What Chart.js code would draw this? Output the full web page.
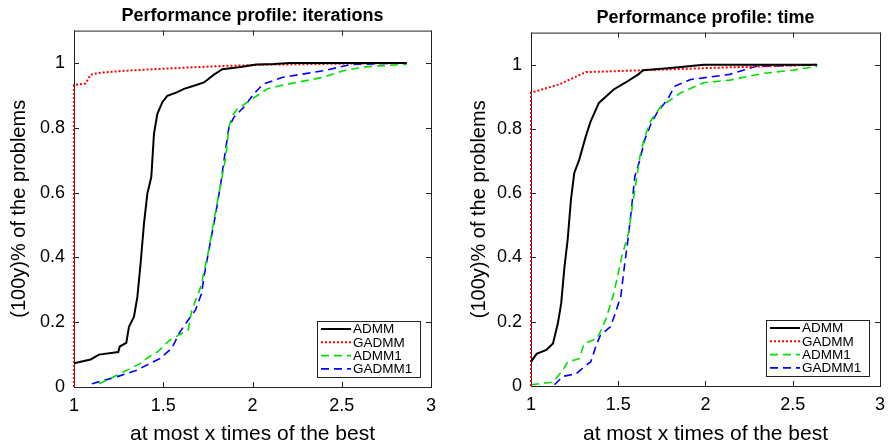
<!DOCTYPE html>
<html>
<head>
<meta charset="utf-8">
<script src="https://cdn.jsdelivr.net/npm/chart.js@4.4.0/dist/chart.umd.min.js"></script>
<style>
  body { margin: 0; background: #fff; }
  #wrap { position: relative; width: 893px; height: 447px; }
  .panel { position: absolute; top: 0; width: 446px; height: 447px; }
</style>
</head>
<body>
<div id="wrap">
  <div class="panel" style="left:0"><canvas id="iterChart" width="446" height="447"></canvas></div>
  <div class="panel" style="left:447px"><canvas id="timeChart" width="446" height="447"></canvas></div>
</div>
<script>
// tick labels
const xTicks = [1, 1.5, 2, 2.5, 3];
const yTicks = [0, 0.2, 0.4, 0.6, 0.8, 1];
const seriesNames = ['ADMM', 'GADMM', 'ADMM1', 'GADMM1'];

// --- iterations panel ---
const iterAdmmX = [1, 1.093, 1.14, 1.248, 1.256, 1.293, 1.308, 1.336, 1.355, 1.373, 1.392, 1.411, 1.433, 1.448, 1.467, 1.495, 1.523, 1.579, 1.616, 1.672, 1.728, 1.784, 1.831, 1.934, 2.02, 2.12, 2.21, 2.864];
const iterAdmmY = [0.073, 0.085, 0.10, 0.108, 0.125, 0.136, 0.186, 0.217, 0.278, 0.381, 0.504, 0.597, 0.648, 0.781, 0.843, 0.879, 0.899, 0.91, 0.92, 0.93, 0.94, 0.964, 0.981, 0.988, 0.995, 0.997, 1, 1];
const iterGadmmX = [1, 1, 1.065, 1.093, 1.149, 1.28, 1.56, 1.84, 2.12, 2.5, 2.864];
const iterGadmmY = [0, 0.932, 0.937, 0.964, 0.97, 0.976, 0.984, 0.991, 0.995, 0.998, 1];
const iterAdmm1X = [1.14, 1.243, 1.373, 1.407, 1.467, 1.538, 1.64, 1.66, 1.71, 1.747, 1.784, 1.822, 1.85, 1.868, 1.887, 1.915, 1.99, 2.083, 2.154, 2.397, 2.509, 2.62, 2.864];
const iterAdmm1Y = [0.01, 0.037, 0.073, 0.088, 0.108, 0.145, 0.176, 0.237, 0.309, 0.402, 0.514, 0.627, 0.709, 0.802, 0.838, 0.858, 0.886, 0.92, 0.93, 0.956, 0.976, 0.988, 0.996];
const iterGadmm1X = [1.1, 1.243, 1.351, 1.482, 1.547, 1.594, 1.631, 1.68, 1.715, 1.728, 1.766, 1.794, 1.822, 1.84, 1.868, 1.896, 1.952, 2.008, 2.06, 2.17, 2.397, 2.546, 2.864];
const iterGadmm1Y = [0.01, 0.032, 0.052, 0.088, 0.119, 0.17, 0.2, 0.237, 0.289, 0.34, 0.453, 0.535, 0.627, 0.699, 0.802, 0.833, 0.864, 0.905, 0.935, 0.956, 0.976, 0.995, 1];

// --- time panel ---
const timeAdmmX = [1, 1.032, 1.088, 1.126, 1.154, 1.173, 1.192, 1.21, 1.229, 1.248, 1.276, 1.314, 1.342, 1.389, 1.474, 1.54, 1.615, 1.643, 1.8, 1.99, 2.64];
const timeAdmmY = [0.075, 0.1, 0.112, 0.132, 0.195, 0.257, 0.372, 0.455, 0.58, 0.663, 0.704, 0.777, 0.824, 0.881, 0.923, 0.944, 0.97, 0.983, 0.99, 1, 1];
const timeGadmmX = [1, 1, 1.163, 1.314, 1.652, 2.03, 2.64];
const timeGadmmY = [0, 0.913, 0.939, 0.977, 0.983, 0.99, 1];
const timeAdmm1X = [1, 1.126, 1.182, 1.21, 1.276, 1.305, 1.38, 1.427, 1.445, 1.474, 1.52, 1.558, 1.595, 1.624, 1.652, 1.69, 1.746, 1.859, 1.99, 2.14, 2.33, 2.5, 2.61, 2.64];
const timeAdmm1Y = [0.004, 0.012, 0.049, 0.075, 0.085, 0.132, 0.148, 0.205, 0.236, 0.288, 0.402, 0.475, 0.61, 0.714, 0.777, 0.829, 0.871, 0.913, 0.944, 0.952, 0.973, 0.983, 0.993, 0.995];
const timeGadmm1X = [1.135, 1.182, 1.258, 1.305, 1.342, 1.374, 1.398, 1.455, 1.483, 1.515, 1.535, 1.558, 1.577, 1.595, 1.624, 1.652, 1.69, 1.727, 1.783, 1.822, 1.915, 2.14, 2.29, 2.64];
const timeGadmm1Y = [0.004, 0.03, 0.038, 0.06, 0.075, 0.127, 0.158, 0.184, 0.226, 0.28, 0.371, 0.465, 0.558, 0.652, 0.704, 0.767, 0.819, 0.855, 0.892, 0.933, 0.954, 0.97, 0.995, 1];

const FONT = '"Liberation Sans", Arial, sans-serif';

// line styles, same order as seriesNames
const lineStyles = [
    { color: '#000000', width: 2, dash: [] },
    { color: '#ff0000', width: 2, dash: [2, 2] },
    { color: '#00e000', width: 1.6, dash: [8, 5] },
    { color: '#0000ff', width: 1.6, dash: [8, 5] }
];

function toPoints(xs, ys) {
    return xs.map((x, i) => ({ x: x, y: ys[i] }));
}

// box round the plot with inward ticks on all four sides, plus boxed legend
const matlabFrame = {
    id: 'matlabFrame',
    beforeDatasetsDraw(chart) {
        const a = chart.chartArea;
        const ctx = chart.ctx;
        const sx = chart.scales.x, sy = chart.scales.y;
        ctx.save();
        ctx.strokeStyle = '#222';
        ctx.lineWidth = 1;
        ctx.strokeRect(a.left + 0.5, a.top + 0.5, a.right - a.left, a.bottom - a.top);
        ctx.beginPath();
        xTicks.forEach(v => {
            const px = Math.round(sx.getPixelForValue(v)) + 0.5;
            ctx.moveTo(px, a.bottom); ctx.lineTo(px, a.bottom - 5);
            ctx.moveTo(px, a.top); ctx.lineTo(px, a.top + 5);
        });
        yTicks.forEach(v => {
            const py = Math.round(sy.getPixelForValue(v)) + 0.5;
            ctx.moveTo(a.left, py); ctx.lineTo(a.left + 5, py);
            ctx.moveTo(a.right, py); ctx.lineTo(a.right - 5, py);
        });
        ctx.stroke();
        ctx.restore();
    },
    afterDatasetsDraw(chart) {
        const a = chart.chartArea;
        const ctx = chart.ctx;
        const w = 103, h = 56;
        const left = Math.round(a.right - 11 - w), top = Math.round(a.bottom - 10 - h);
        ctx.save();
        ctx.fillStyle = '#fff';
        ctx.fillRect(left, top, w, h);
        ctx.strokeStyle = '#222';
        ctx.lineWidth = 1;
        ctx.strokeRect(left + 0.5, top + 0.5, w, h);
        ctx.font = '13.5px ' + FONT;
        ctx.textBaseline = 'middle';
        ctx.fillStyle = '#000';
        chart.data.datasets.forEach((ds, i) => {
            const y = top + 8 + i * 13.3;
            ctx.beginPath();
            ctx.strokeStyle = ds.borderColor;
            ctx.lineWidth = ds.borderWidth;
            ctx.setLineDash(ds.borderDash);
            ctx.moveTo(left + 4, y);
            ctx.lineTo(left + 34, y);
            ctx.stroke();
            ctx.setLineDash([]);
            ctx.fillText(ds.label, left + 36, y + 0.5);
        });
        ctx.restore();
    }
};

function drawPanel(canvasId, titleText, xsList, ysList, box) {
    const ctx = document.getElementById(canvasId).getContext('2d');
    const datasets = seriesNames.map((name, i) => ({
        label: name,
        data: toPoints(xsList[i], ysList[i]),
        borderColor: lineStyles[i].color,
        borderWidth: lineStyles[i].width,
        borderDash: lineStyles[i].dash,
        pointRadius: 0,
        tension: 0,
        fill: false,
        clip: 6
    }));

    new Chart(ctx, {
        type: 'line',
        data: { datasets: datasets },
        options: {
            responsive: false,
            animation: false,
            layout: { padding: { left: 0, right: box.padRight, top: 0, bottom: 0 } },
            scales: {
                x: {
                    type: 'linear',
                    min: 1,
                    max: 3,
                    afterBuildTicks: s => { s.ticks = xTicks.map(v => ({ value: v })); },
                    afterFit: s => { s.height = box.bottomH; },
                    grid: { display: false, drawTicks: false },
                    border: { display: false },
                    ticks: { color: '#000', padding: 8, font: { size: 18, family: FONT }, callback: v => String(v) },
                    title: {
                        display: true,
                        text: 'at most x times of the best',
                        color: '#000',
                        font: { size: 21, family: FONT },
                        padding: { top: 0, bottom: 0 }
                    }
                },
                y: {
                    type: 'linear',
                    min: 0,
                    max: 1.1,
                    afterBuildTicks: s => { s.ticks = yTicks.map(v => ({ value: v })); },
                    afterFit: s => { s.width = box.leftW; },
                    grid: { display: false, drawTicks: false },
                    border: { display: false },
                    ticks: { color: '#000', padding: 9, font: { size: 18, family: FONT }, callback: v => String(v) },
                    title: {
                        display: true,
                        text: '(100y)% of the problems',
                        color: '#000',
                        font: { size: 20, family: FONT },
                        padding: { top: box.yTitlePad, bottom: 0 }
                    }
                }
            },
            plugins: {
                legend: { display: false },
                tooltip: { enabled: false },
                title: {
                    display: true,
                    fullSize: false,
                    text: titleText,
                    color: '#000',
                    font: { size: 18, weight: 'bold', family: FONT },
                    padding: { top: box.titleTop, bottom: box.titleBottom }
                }
            }
        },
        plugins: [matlabFrame]
    });
}

document.addEventListener('DOMContentLoaded', () => {
    drawPanel('iterChart', 'Performance profile: iterations',
        [iterAdmmX, iterGadmmX, iterAdmm1X, iterGadmm1X],
        [iterAdmmY, iterGadmmY, iterAdmm1Y, iterGadmm1Y],
        { leftW: 74, padRight: 15, bottomH: 60, titleTop: 5, titleBottom: 4, yTitlePad: 7 });
    drawPanel('timeChart', 'Performance profile: time',
        [timeAdmmX, timeGadmmX, timeAdmm1X, timeGadmm1X],
        [timeAdmmY, timeGadmmY, timeAdmm1Y, timeGadmm1Y],
        { leftW: 84, padRight: 7, bottomH: 61, titleTop: 7, titleBottom: 4, yTitlePad: 20 });
});
</script>
</body>
</html>
